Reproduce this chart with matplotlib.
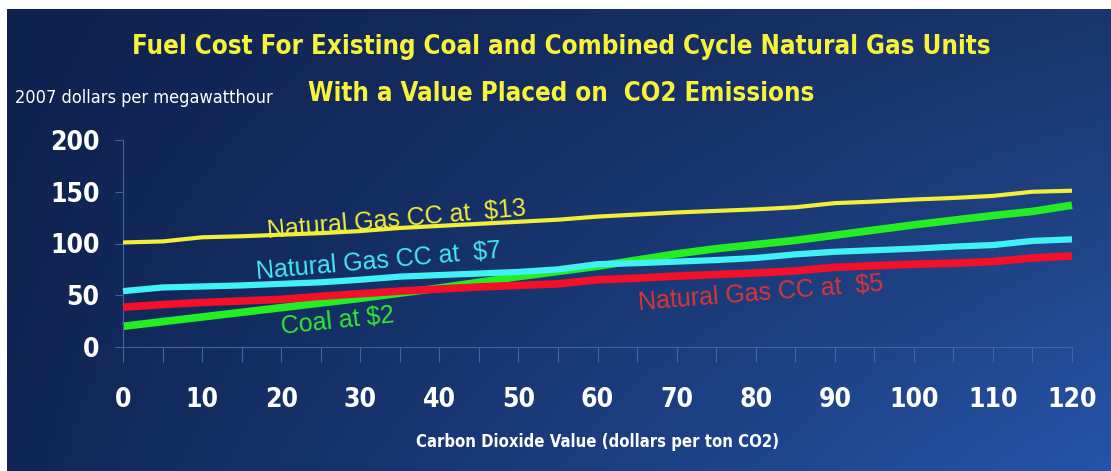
import numpy as np
import matplotlib
matplotlib.use("Agg")
from matplotlib import pyplot as plt

# carbon dioxide value, dollars per ton
co2 = [0, 5, 10, 15, 20, 25, 30, 35, 40, 45, 50, 55, 60,
       65, 70, 75, 80, 85, 90, 95, 100, 105, 110, 115, 120]

# fuel cost, 2007 dollars per MWh
gas_13 = [101, 102, 106, 107, 108.5, 110, 112, 115, 117, 119, 121, 123, 126,
          128, 130, 131.5, 133, 135, 139, 140.5, 142.5, 144, 146, 150, 151]
gas_7 = [54, 57.5, 58.5, 59.5, 61, 62.5, 65, 68, 69.5, 71, 72.5, 75, 80,
         81, 82.5, 84, 86, 89.5, 92, 93.5, 95, 97, 98.5, 102.5, 104]
gas_5 = [38.5, 41, 43, 44.5, 46, 49, 51.5, 54, 56, 58, 59.5, 61, 65,
         66.5, 68.5, 70, 71.5, 73.5, 77, 78.5, 80, 81, 82.5, 86, 88]
coal_2 = [20, 24.5, 29, 33.5, 38, 42.5, 47, 52, 57, 62.5, 68, 73, 78,
          84, 90, 95, 99, 103, 108, 113, 118, 122.5, 127, 131, 137]

x_ticks = list(range(0, 121, 10))
y_ticks = [0, 50, 100, 150, 200]

narrow = dict(family='DejaVu Sans', fontstretch='condensed')
plain = ['Liberation Sans', 'DejaVu Sans']

fig = plt.figure(figsize=(11.11, 4.71), dpi=100)
fig.patch.set_facecolor('white')

# gradient background panel
bg = fig.add_axes([7 / 1111, 0, 1 - 7 / 1111, 1 - 9 / 471])
tl = np.array([14, 33, 78]) / 255
tr = np.array([26, 54, 108]) / 255
bl = np.array([16, 38, 84]) / 255
br = np.array([38, 84, 168]) / 255
u = np.linspace(0, 1, 300)[None, :, None]
v = np.linspace(0, 1, 150)[:, None, None]
grad = (1 - v) * ((1 - u) * tl + u * tr) + v * ((1 - u) * bl + u * br)
bg.imshow(grad, aspect='auto', extent=[0, 1, 0, 1], interpolation='bilinear')
bg.set_axis_off()

ax = fig.add_axes([123 / 1111, 1 - 347 / 471, (1072 - 123) / 1111, (347 - 140) / 471])
ax.patch.set_alpha(0)

ax.plot(co2, coal_2, color='#22ee22', lw=5.5, solid_capstyle='butt', clip_on=False, zorder=2)
ax.plot(co2, gas_5, color='#f5102a', lw=5.5, solid_capstyle='butt', clip_on=False, zorder=3)
ax.plot(co2, gas_7, color='#40f2f6', lw=4.5, solid_capstyle='butt', clip_on=False, zorder=4)
ax.plot(co2, gas_13, color='#f2ee3a', lw=3, solid_capstyle='butt', clip_on=False, zorder=5)

ax.set_xlim(0, 120)
ax.set_ylim(0, 200)

edge = '#4064a8'
for s in ['top', 'right']:
    ax.spines[s].set_visible(False)
ax.spines['left'].set_color(edge)
ax.spines['bottom'].set_color(edge)
ax.spines['left'].set_linewidth(0.8)
ax.spines['bottom'].set_linewidth(0.8)

ax.set_xticks(x_ticks)
ax.set_xticks(list(range(5, 120, 10)), minor=True)
ax.set_yticks(y_ticks)
ax.tick_params(axis='x', which='both', direction='out', length=11, color=edge, width=0.8, pad=18)
ax.tick_params(axis='y', direction='out', length=6, color=edge, width=0.8, pad=11)
ax.set_xticklabels([str(t) for t in x_ticks], fontsize=19, fontweight='bold', color='white', **narrow)
ax.set_yticklabels([str(t) for t in y_ticks], fontsize=19, fontweight='bold', color='white', **narrow)

ax.set_xlabel('Carbon Dioxide Value (dollars per ton CO2)', fontsize=12, fontweight='bold',
              color='white', labelpad=14, **narrow)

# line labels
ax.text(34.6, 123, 'Natural Gas CC at  $13', color='#f2ea3c', fontsize=18, rotation=5,
        ha='center', va='center', family=plain, rotation_mode='anchor')
ax.text(32.3, 82.5, 'Natural Gas CC at  $7', color='#44e8f2', fontsize=18, rotation=5,
        ha='center', va='center', family=plain, rotation_mode='anchor')
ax.text(80.6, 52, 'Natural Gas CC at  $5', color='#dc3434', fontsize=18, rotation=4.5,
        ha='center', va='center', family=plain, rotation_mode='anchor')
ax.text(27.1, 25, 'Coal at $2', color='#30e830', fontsize=18, rotation=6,
        ha='center', va='center', family=plain, rotation_mode='anchor')

# titles
fig.text(561 / 1111, 1 - 47 / 471, 'Fuel Cost For Existing Coal and Combined Cycle Natural Gas Units',
         color='#f8f23a', fontsize=18.5, fontweight='bold', ha='center', va='center', **narrow)
fig.text(561 / 1111, 1 - 94 / 471, 'With a Value Placed on  CO2 Emissions',
         color='#f8f23a', fontsize=18.5, fontweight='bold', ha='center', va='center', **narrow)
fig.text(15 / 1111, 1 - 98 / 471, '2007 dollars per megawatthour', color='white',
         fontsize=13, ha='left', va='center', **narrow)

fig.savefig('out.png', dpi=100, facecolor='white')
